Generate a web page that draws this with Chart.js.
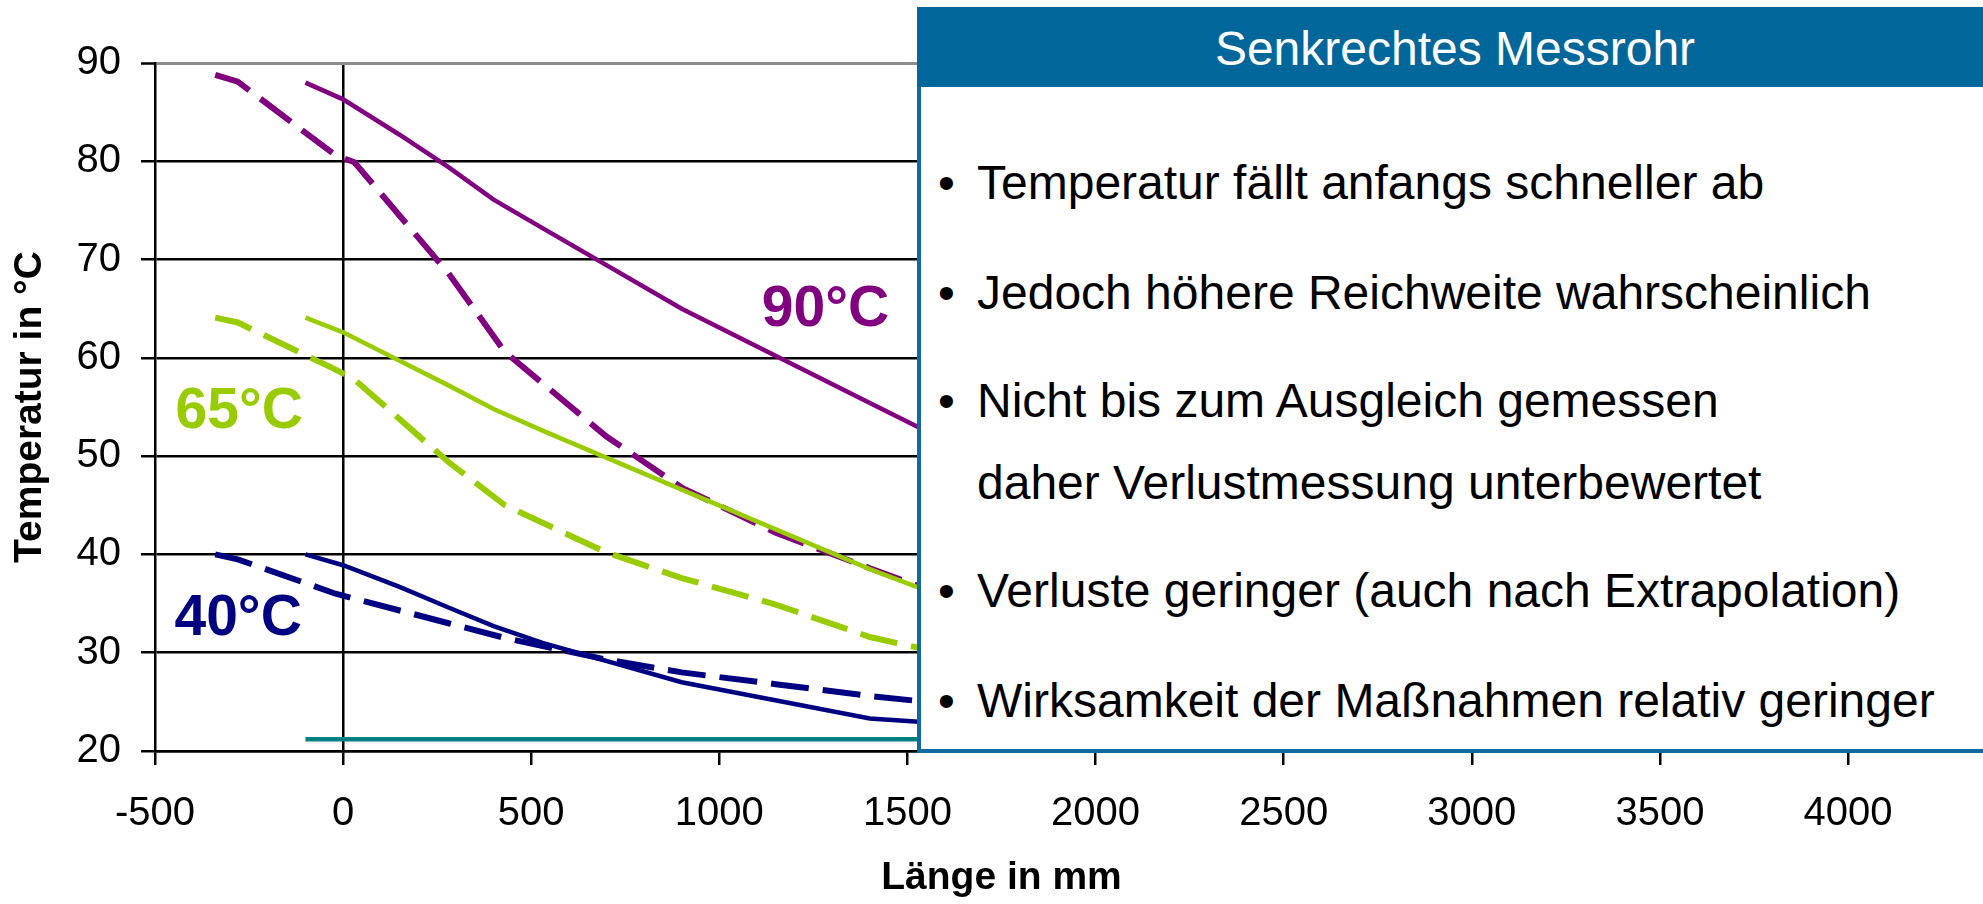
<!DOCTYPE html>
<html>
<head>
<meta charset="utf-8">
<script src="https://cdn.jsdelivr.net/npm/chart.js@4.4.1/dist/chart.umd.min.js"></script>
<style>
  body { margin: 0; overflow: hidden; background: #fff; }
  #wrap { position: relative; width: 1983px; height: 904px; font-family: "Liberation Sans", Arial, sans-serif; }
  #c { position: absolute; left: 0; top: 0; }
  .box { position: absolute; left: 917px; top: 7px; width: 1100px; height: 746px; box-sizing: border-box;
         border: 4px solid #0f6aa0; background: #fff; }
  .head { position: absolute; left: 917px; top: 7px; width: 1100px; height: 80px; background: #01669a; }
  .t { position: absolute; font-size: 48px; line-height: 48px; white-space: nowrap; color: #000; }
  .title { left: 919px; width: 1072px; text-align: center; color: #fff; top: 25px; }
</style>
</head>
<body>
<div id="wrap">
  <canvas id="c" width="1983" height="904"></canvas>
  <div class="box"></div>
  <div class="head"></div>
  <div class="t title">Senkrechtes Messrohr</div>
  <div class="t" style="left:938px;top:159px">•</div>
  <div class="t" style="left:977px;top:159px">Temperatur fällt anfangs schneller ab</div>
  <div class="t" style="left:938px;top:269px">•</div>
  <div class="t" style="left:977px;top:269px">Jedoch höhere Reichweite wahrscheinlich</div>
  <div class="t" style="left:938px;top:377px">•</div>
  <div class="t" style="left:977px;top:377px">Nicht bis zum Ausgleich gemessen</div>
  <div class="t" style="left:977px;top:459px">daher Verlustmessung unterbewertet</div>
  <div class="t" style="left:938px;top:567px">•</div>
  <div class="t" style="left:977px;top:567px">Verluste geringer (auch nach Extrapolation)</div>
  <div class="t" style="left:938px;top:677px">•</div>
  <div class="t" style="left:977px;top:677px">Wirksamkeit der Maßnahmen relativ geringer</div>
</div>
<script>
// Länge in mm (Messpunkte)
const xSolid = [-100, 0, 150, 280, 400, 530, 900, 1400, 1600];
const xDashed = [-340, -280, -20, 30, 280, 430, 700, 900, 1150, 1400, 1600];
const xAmbient = [-100, 1600];

// Temperaturen in °C
const t90Solid = [88.0, 86.3, 82.7, 79.4, 76.1, 73.2, 65.0, 55.4, 51.6];
const t65Solid = [64.1, 62.6, 59.7, 57.2, 54.8, 52.6, 46.6, 38.5, 35.6];
const t40Solid = [40.0, 38.9, 36.7, 34.6, 32.7, 31.0, 27.0, 23.3, 22.8];
const t90Dashed = [88.8, 88.1, 80.6, 79.9, 68.6, 60.6, 52.0, 46.8, 42.2, 38.6, 35.8];
const t65Dashed = [64.1, 63.6, 58.8, 57.8, 49.4, 45.0, 40.2, 37.6, 34.9, 31.6, 29.9];
const t40Dashed = [40.0, 39.5, 36.0, 35.5, 33.0, 31.5, 29.3, 28.0, 26.8, 25.6, 24.8];
const tAmbient = [21.2, 21.2];

const xTicks = [-500, 4000];
const yTicks = [20, 90];

const FONT = '"Liberation Sans", Arial, sans-serif';

function pts(xs, ys) {
  return xs.map((x, i) => ({ x: x, y: ys[i] }));
}

function line(xs, ys, color, dashed) {
  return {
    data: pts(xs, ys),
    borderColor: color,
    backgroundColor: color,
    borderWidth: dashed ? 6 : 4.5,
    borderDash: dashed ? [38, 14] : [],
    pointRadius: 0,
    tension: 0,
    fill: false
  };
}

// Beschriftung der Kurven
const curveLabels = {
  id: 'curveLabels',
  afterDatasetsDraw(chart) {
    const { ctx, scales } = chart;
    const items = [
      ['90°C', 1282, 63.2, '#800080'],
      ['65°C', -276, 52.9, '#99cc00'],
      ['40°C', -279, 31.8, '#000080']
    ];
    ctx.save();
    ctx.font = 'bold 57px ' + FONT;
    ctx.textAlign = 'center';
    ctx.textBaseline = 'alphabetic';
    items.forEach(it => {
      ctx.fillStyle = it[3];
      ctx.fillText(it[0], scales.x.getPixelForValue(it[1]), scales.y.getPixelForValue(it[2]));
    });
    ctx.restore();
  }
};

new Chart(document.getElementById('c'), {
  type: 'line',
  data: {
    datasets: [
      line(xAmbient, tAmbient, '#008080', false),
      line(xSolid, t40Solid, '#000080', false),
      line(xDashed, t40Dashed, '#000080', true),
      line(xSolid, t65Solid, '#99cc00', false),
      line(xDashed, t65Dashed, '#99cc00', true),
      line(xSolid, t90Solid, '#800080', false),
      line(xDashed, t90Dashed, '#800080', true)
    ]
  },
  options: {
    responsive: false,
    animation: false,
    devicePixelRatio: 1,
    layout: { padding: { left: 0, top: 63, right: 135, bottom: 0 } },
    plugins: { legend: { display: false }, tooltip: { enabled: false } },
    scales: {
      x: {
        type: 'linear',
        min: xTicks[0],
        max: xTicks[1],
        ticks: {
          stepSize: 500, color: '#000', padding: 25, maxRotation: 0,
          font: { family: FONT, size: 40 },
          callback: v => String(v)
        },
        grid: {
          color: c => (c.tick && c.tick.value === 0) ? '#000' : 'rgba(0,0,0,0)',
          tickColor: '#000',
          lineWidth: 2.5,
          tickWidth: 2.5,
          tickLength: 14
        },
        border: { color: '#000', width: 2.5 },
        title: { display: true, text: 'Länge in mm', color: '#000', padding: { top: 0, bottom: 2 }, font: { family: FONT, size: 39, weight: 'bold' } },
        afterFit: s => { s.height = 153; }
      },
      y: {
        min: yTicks[0],
        max: yTicks[1],
        ticks: { stepSize: 10, color: '#000', padding: 20, font: { family: FONT, size: 40 } },
        grid: {
          color: c => (c.tick && c.tick.value === 90) ? '#8c8c8c' : '#000',
          lineWidth: c => (c.tick && c.tick.value === 90) ? 3 : 2.5,
          tickColor: '#000',
          tickWidth: 2.5,
          tickLength: 14
        },
        border: { color: '#000', width: 2.5 },
        title: { display: true, text: 'Temperatur in °C', color: '#000', padding: { top: 7, bottom: 0 }, font: { family: FONT, size: 39, weight: 'bold' } },
        afterFit: s => { s.width = 155; }
      }
    }
  },
  plugins: [curveLabels]
});
</script>
</body>
</html>
